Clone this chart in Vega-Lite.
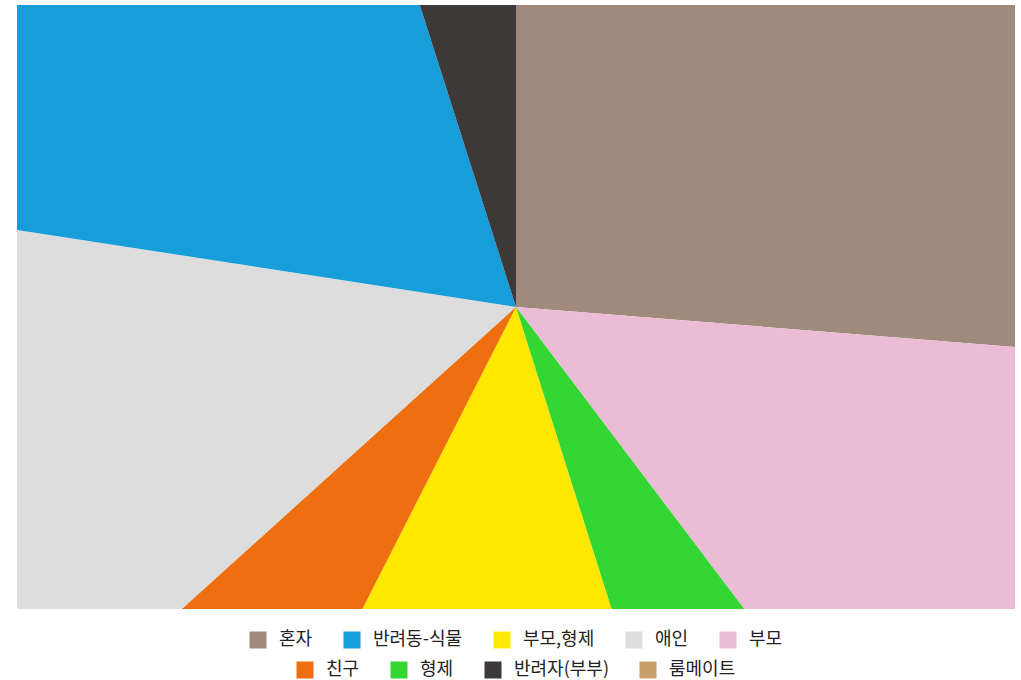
{
  "$schema": "https://vega.github.io/schema/vega-lite/v6.json",
  "width": 998,
  "height": 604,
  "autosize": {"type": "none"},
  "padding": {"left": 17, "top": 5, "right": 6, "bottom": 71},
  "data": {
    "values": [
      {"name": "혼자", "value": 26.27, "idx": 1, "grp": 1},
      {"name": "부모", "value": 13.43, "idx": 2, "grp": 1},
      {"name": "형제", "value": 5.42, "idx": 3, "grp": 2},
      {"name": "부모,형제", "value": 12.37, "idx": 4, "grp": 1},
      {"name": "친구", "value": 5.81, "idx": 5, "grp": 2},
      {"name": "애인", "value": 14.14, "idx": 6, "grp": 1},
      {"name": "반려동-식물", "value": 17.65, "idx": 7, "grp": 1},
      {"name": "반려자(부부)", "value": 4.91, "idx": 8, "grp": 2},
      {"name": "룸메이트", "value": 0, "idx": 9, "grp": 2}
    ]
  },
  "transform": [
    {"stack": "value", "groupby": [], "sort": [{"field": "idx", "order": "ascending"}], "as": ["v0", "v1"]}
  ],
  "layer": [
    {
      "transform": [{"filter": "datum.grp == 1"}],
      "mark": {"type": "arc", "radius": 1200, "clip": true},
      "encoding": {
        "theta": {"field": "v0", "type": "quantitative", "stack": null, "scale": {"domain": [0, 100]}},
        "theta2": {"field": "v1"},
        "color": {
          "field": "name",
          "type": "nominal",
          "scale": {
            "domain": ["혼자", "반려동-식물", "부모,형제", "애인", "부모"],
            "range": ["#a08a7b", "#179dd9", "#ffe800", "#dcdddc", "#ebbcd6"]
          },
          "legend": {"title": null, "orient": "bottom", "direction": "horizontal"}
        }
      }
    },
    {
      "transform": [{"filter": "datum.grp == 2"}],
      "mark": {"type": "arc", "radius": 1200, "clip": true},
      "encoding": {
        "theta": {"field": "v0", "type": "quantitative", "stack": null, "scale": {"domain": [0, 100]}},
        "theta2": {"field": "v1"},
        "color": {
          "field": "name",
          "type": "nominal",
          "scale": {
            "domain": ["친구", "형제", "반려자(부부)", "룸메이트"],
            "range": ["#ee6f10", "#33d633", "#3e3939", "#c9a06a"]
          },
          "legend": {"title": null, "orient": "bottom", "direction": "horizontal"}
        }
      }
    }
  ],
  "resolve": {"scale": {"color": "independent"}},
  "config": {
    "view": {"stroke": null},
    "legend": {
      "symbolType": "square",
      "symbolSize": 289,
      "symbolStrokeWidth": 0,
      "symbolOpacity": 1,
      "labelFont": "Noto Sans CJK KR",
      "labelFontSize": 18,
      "labelColor": "#222222",
      "labelOffset": 12,
      "columnPadding": 30,
      "offset": 22,
      "layout": {"bottom": {"anchor": "middle", "direction": "vertical", "center": true, "margin": 12}}
    }
  }
}
